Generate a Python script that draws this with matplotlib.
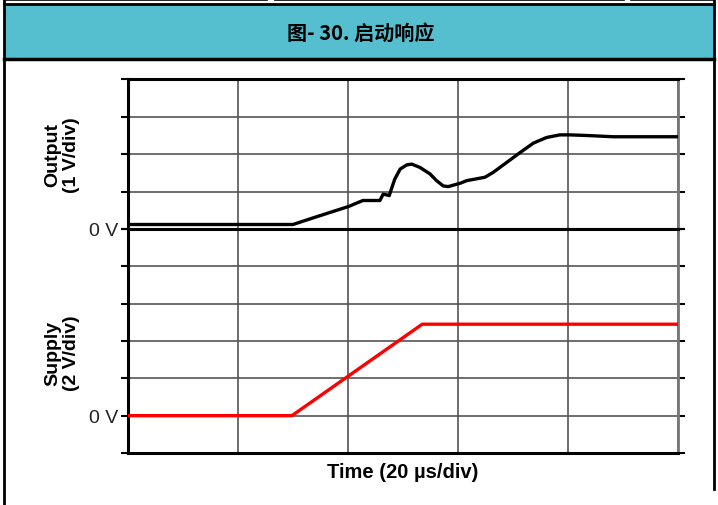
import numpy as np
import matplotlib
matplotlib.use('Agg')
import matplotlib.pyplot as plt
from matplotlib.lines import Line2D
from matplotlib.patches import Rectangle

# time axis in microseconds, 20 us/div
t_out = [0, 30, 33.1, 36.7, 40.1, 42.7, 45.8, 46.4, 47.0, 47.5, 47.9, 48.5, 49.5,
         50.7, 51.6, 53.1, 54.9, 56.1, 57.3, 58.2, 60.4, 61.6, 64.9, 66.4, 68.9,
         71.3, 73.7, 76.1, 78.5, 80.4, 84, 88.2, 100]
v_out = [0.12, 0.12, 0.27, 0.44, 0.6, 0.76, 0.76, 0.93, 0.91, 0.89, 1.07, 1.33, 1.6,
         1.71, 1.73, 1.64, 1.47, 1.29, 1.15, 1.13, 1.22, 1.29, 1.38, 1.51, 1.78,
         2.04, 2.29, 2.44, 2.51, 2.51, 2.49, 2.46, 2.46]

t_sup = [0, 29.8, 53.5, 100]
v_sup = [0, 0, 4.9, 4.9]

out_ticks = [0, 1, 2, 3, 4]          # 1 V/div
sup_ticks = [-2, 0, 2, 4, 6, 8, 10]  # 2 V/div
time_ticks = [0, 20, 40, 60, 80, 100]

title = '图- 30. 启动响应'

plt.rcParams['font.family'] = ['Liberation Sans', 'DejaVu Sans']

fig = plt.figure(figsize=(7.18, 5.06), dpi=100)
W, H = 718, 506

def fx(px):
    return px / W

def fy(py):
    return 1 - py / H

# page frame and title band
fig.patches.append(Rectangle((fx(4), fy(60)), fx(711), fy(5) - fy(60),
                             transform=fig.transFigure, facecolor='#56bfcf',
                             edgecolor='none', zorder=0))
for y, lw in [(5, 2.0), (60, 2.5)]:
    fig.add_artist(Line2D([fx(4), fx(714)], [fy(y), fy(y)], color='black', lw=lw))
for x0, x1 in [(4, 267), (275, 624), (631, 714)]:
    fig.add_artist(Line2D([fx(x0), fx(x1)], [fy(1), fy(1)], color='black', lw=1.2))
fig.add_artist(Line2D([fx(4), fx(4)], [fy(0), fy(506)], color='black', lw=2))
fig.add_artist(Line2D([fx(714), fx(714)], [fy(0), fy(490)], color='black', lw=2))
fig.text(fx(361), fy(33), title, ha='center', va='center', fontsize=14.5,
         fontweight='bold', family=['Noto Sans CJK SC', 'DejaVu Sans'])

ax1 = fig.add_axes([fx(128), fy(230), fx(550), fy(80) - fy(230)])
ax2 = fig.add_axes([fx(128), fy(454), fx(550), fy(230) - fy(454)])

ax1.plot(t_out, v_out, color='black', lw=2.4, zorder=3)
ax2.plot(t_sup, v_sup, color='#ff0000', lw=2.4, zorder=3)

ax1.set_ylim(out_ticks[0], out_ticks[-1])
ax2.set_ylim(sup_ticks[0], sup_ticks[-1])
ax1.set_yticks(out_ticks)
ax2.set_yticks(sup_ticks)
ax1.set_yticklabels(['0 V' if v == 0 else '' for v in out_ticks])
ax2.set_yticklabels(['0 V' if v == 0 else '' for v in sup_ticks])

for ax in (ax1, ax2):
    ax.set_xlim(time_ticks[0], time_ticks[-1])
    ax.set_xticks(time_ticks)
    ax.set_xticklabels([])
    ax.grid(True, color='#555555', lw=1.2)
    ax.set_axisbelow(True)
    ax.tick_params(axis='x', length=0)
    ax.tick_params(axis='y', which='both', direction='out', length=5, width=1.5,
                   labelsize=14, labelcolor='#222222', pad=2)
    ax.tick_params(axis='y', left=True, right=True)
    for side in ('left', 'top', 'bottom'):
        ax.spines[side].set_color('black')
        ax.spines[side].set_linewidth(2.2)
    ax.spines['right'].set_color('#777777')
    ax.spines['right'].set_linewidth(2.0)
    for tk in ax.yaxis.get_major_ticks():
        tk.tick1line.set_color('black')
        tk.tick2line.set_color('#999999')

ax1.text(-0.12, 0.5, 'Output\n(1 V/div)', transform=ax1.transAxes, rotation=90,
         ha='center', va='center', fontsize=14, fontweight='bold', linespacing=1.15)
ax2.text(-0.12, 0.45, 'Supply\n(2 V/div)', transform=ax2.transAxes, rotation=90,
         ha='center', va='center', fontsize=14, fontweight='bold', linespacing=1.15)
ax2.set_xlabel('Time (20 µs/div)', fontsize=14.5, fontweight='bold', labelpad=3)

fig.savefig('out.png', dpi=100)
